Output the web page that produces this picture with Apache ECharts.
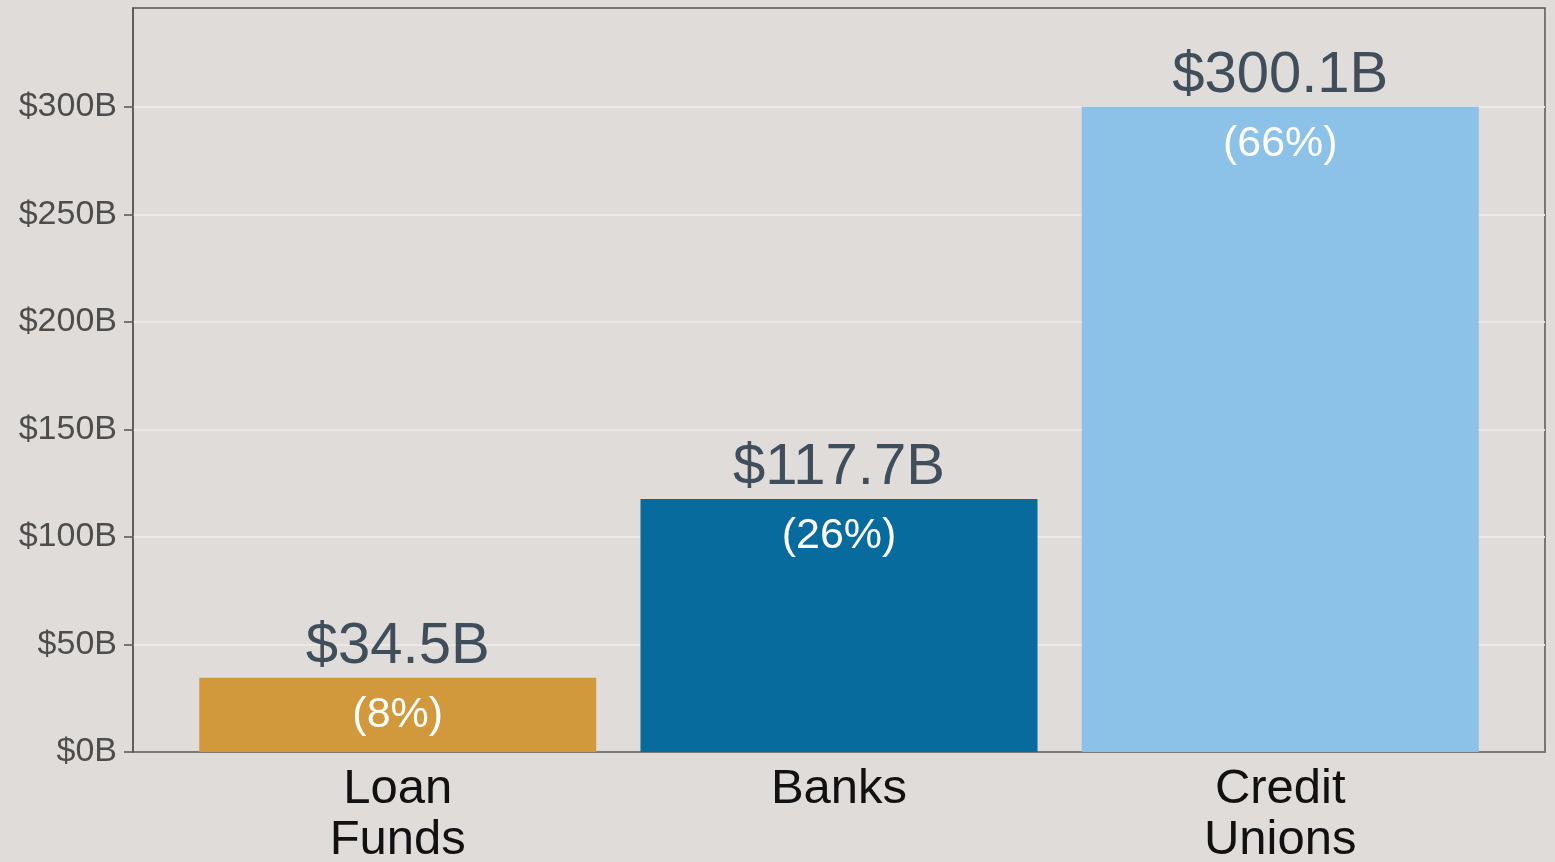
<!DOCTYPE html>
<html>
<head>
<meta charset="utf-8">
<script src="https://cdn.jsdelivr.net/npm/echarts@6/dist/echarts.min.js"></script>
<style>
html,body{margin:0;padding:0;background:#dfdcd9;}
#chart{width:1555px;height:862px;}
</style>
</head>
<body>
<div id="chart"></div>
<script>
var categories = ['Loan\nFunds', 'Banks', 'Credit\nUnions'];
var values = [34.5, 117.7, 300.1];
var shares = [8, 26, 66];
var yTicks = [0, 50, 100, 150, 200, 250, 300];

var barColors = ['#d1993b', '#076b9e', '#8cc1e8'];
var FONT = '"Liberation Sans", Arial, sans-serif';
var positions = categories.map(function (c, i) { return i + 1; });

var chart = echarts.init(document.getElementById('chart'));
chart.setOption({
  backgroundColor: '#dfdcd9',
  animation: false,
  grid: {left: 133, right: 10, top: 8, bottom: 110, outerBoundsMode: 'none', containLabel: false,
         show: true, borderColor: '#555555', borderWidth: 1.5, backgroundColor: 'transparent'},
  xAxis: {
    type: 'value',
    min: 0.4, max: 3.6,
    splitLine: {show: false},
    axisLine: {show: true, lineStyle: {color: '#555555', width: 1.5}},
    axisTick: {show: false},
    axisLabel: {
      customValues: positions,
      fontFamily: FONT, fontSize: 49, color: '#111111', lineHeight: 51, margin: 12,
      formatter: function (v) { return categories[Math.round(v) - 1] || ''; }
    }
  },
  yAxis: {
    type: 'value',
    min: 0, max: 346,
    axisLine: {show: true, lineStyle: {color: '#555555', width: 1.5}},
    axisTick: {show: true, customValues: yTicks, length: 9, lineStyle: {color: '#555555', width: 1.5}},
    splitLine: {show: true, lineStyle: {color: '#ebe9e6', width: 2}},
    axisLabel: {
      customValues: yTicks,
      fontFamily: FONT, fontSize: 34, color: '#4d4d4d', margin: 16,
      formatter: function (v) { return '$' + v + 'B'; }
    }
  },
  series: [
    {
      type: 'bar',
      data: values.map(function (v, i) { return {value: [positions[i], v], itemStyle: {color: barColors[i]}}; }),
      barWidth: 397,
      label: {
        show: true, position: 'top', distance: 2,
        fontFamily: FONT, fontSize: 58, color: '#3f4e5a',
        formatter: function (p) { return '$' + p.value[1].toFixed(1) + 'B'; }
      },
      z: 2
    },
    {
      type: 'bar',
      data: values.map(function (v, i) { return [positions[i], v]; }),
      barWidth: 397,
      barGap: '-100%',
      itemStyle: {color: 'rgba(0,0,0,0)'},
      label: {
        show: true, position: 'insideTop', distance: 16,
        fontFamily: FONT, fontSize: 43, color: '#ffffff',
        formatter: function (p) { return '(' + shares[p.dataIndex] + '%)'; }
      },
      silent: true,
      z: 3
    }
  ]
});
</script>
</body>
</html>
